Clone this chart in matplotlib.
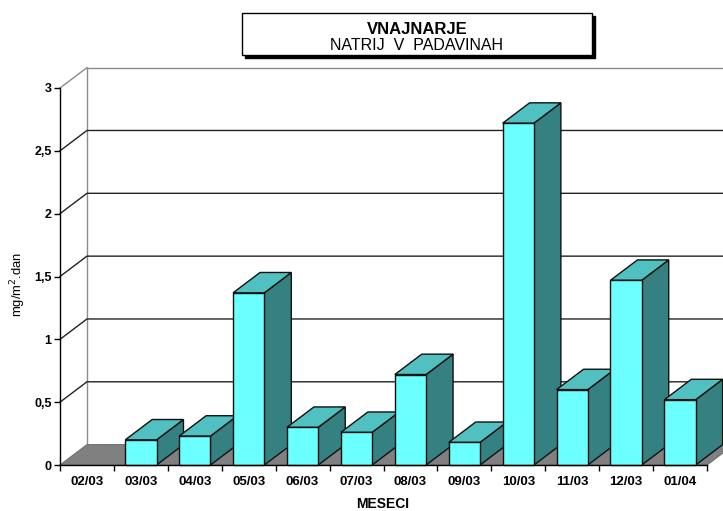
import numpy as np
import matplotlib
matplotlib.use('Agg')
import matplotlib.pyplot as plt
from matplotlib.patches import Polygon, Rectangle

plt.rcParams['font.family'] = ['Liberation Sans', 'DejaVu Sans']

# data
months = ['02/03', '03/03', '04/03', '05/03', '06/03', '07/03',
          '08/03', '09/03', '10/03', '11/03', '12/03', '01/04']
values = [0.0, 0.20, 0.23, 1.37, 0.30, 0.26, 0.72, 0.18, 2.72, 0.60, 1.47, 0.52]
yticks = [0, 0.5, 1, 1.5, 2, 2.5, 3]
ytick_labels = ['0', '0,5', '1', '1,5', '2', '2,5', '3']

# oblique depth offset (in data units)
DX, DY = 0.5, 0.162
W = 0.58
n = len(months)
ymax = 3

front_c = '#6BFFFF'
top_c = '#50C0C0'
side_c = '#358080'
floor_c = '#808080'
wall_c = '#8C8C8C'

fig = plt.figure(figsize=(7.23, 5.11), dpi=100)
ax = fig.add_axes([60 / 723, 46 / 511, 647 / 723, 377 / 511])
ax.set_xlim(0, n)
ax.set_ylim(0, ymax)
ax.patch.set_visible(False)

# back wall borders
ax.plot([DX, DX], [DY, ymax + DY], color=wall_c, lw=1, clip_on=False, zorder=1)
ax.plot([DX, n + DX], [ymax + DY, ymax + DY], color=wall_c, lw=1, clip_on=False, zorder=1)
ax.plot([0, DX], [ymax, ymax + DY], color=wall_c, lw=1, clip_on=False, zorder=1)

# gridlines on the side and back wall
for v in yticks[1:-1]:
    ax.plot([0, DX, n + DX], [v, v + DY, v + DY], color='#222222', lw=1,
            clip_on=False, zorder=1)

# floor
ax.add_patch(Polygon([(0, 0), (n, 0), (n + DX, DY), (DX, DY)], closed=True,
                     facecolor=floor_c, edgecolor='#6E6E6E', lw=0.8,
                     clip_on=False, zorder=1.2))

# bars
for i, v in enumerate(values):
    if v <= 0:
        continue
    x0 = i + 0.5 - W / 2
    x1 = x0 + W
    ax.add_patch(Polygon([(x1, 0), (x1 + DX, DY), (x1 + DX, v + DY), (x1, v)],
                         closed=True, facecolor=side_c, edgecolor='#111111',
                         lw=1, clip_on=False, zorder=2))
    ax.add_patch(Polygon([(x0, v), (x1, v), (x1 + DX, v + DY), (x0 + DX, v + DY)],
                         closed=True, facecolor=top_c, edgecolor='#111111',
                         lw=1, clip_on=False, zorder=2))
    ax.add_patch(Rectangle((x0, 0), W, v, facecolor=front_c, edgecolor='#111111',
                           lw=1, clip_on=False, zorder=2))

# axes
for s in ['top', 'right']:
    ax.spines[s].set_visible(False)
for s in ['left', 'bottom']:
    ax.spines[s].set_color('black')
    ax.spines[s].set_linewidth(1)
    ax.spines[s].set_zorder(3)

ax.set_yticks(yticks)
ax.set_yticklabels(ytick_labels, fontsize=9, fontweight='bold')
ax.tick_params(axis='y', direction='out', length=4, width=1, pad=2)

ax.set_xticks(np.arange(n + 1))
ax.set_xticklabels([])
ax.set_xticks(np.arange(n) + 0.5, minor=True)
ax.set_xticklabels(months, minor=True, fontsize=9.5, fontweight='bold')
ax.tick_params(axis='x', which='major', direction='out', length=4.5, width=1)
ax.tick_params(axis='x', which='minor', length=0, pad=8)

ax.set_ylabel('mg/m$^2$.dan', fontsize=9.4)
ax.yaxis.set_label_coords(-0.05, 0.48)
ax.set_xlabel('MESECI', fontsize=10, fontweight='bold')
ax.xaxis.set_label_coords(0.499, -0.084)

# title box with shadow
bx, by, bw, bh = 242 / 723, 1 - 55 / 511, 350 / 723, 42 / 511
fig.patches.append(Rectangle((bx + 3 / 723, by - 3 / 511), bw, bh, transform=fig.transFigure,
                             facecolor='black', edgecolor='black', zorder=1))
fig.patches.append(Rectangle((bx, by), bw, bh, transform=fig.transFigure,
                             facecolor='white', edgecolor='black', lw=1, zorder=2))
fig.text(bx + bw / 2, 1 - 29 / 511, 'VNAJNARJE', ha='center', va='center',
         fontsize=12, fontweight='bold', zorder=3)
fig.text(bx + bw / 2, 1 - 45 / 511, 'NATRIJ  V  PADAVINAH', ha='center', va='center',
         fontsize=11.5, zorder=3)

fig.savefig('out.png', dpi=100)
